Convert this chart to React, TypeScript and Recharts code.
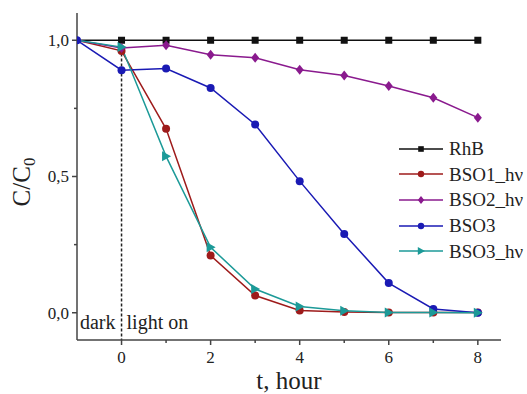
import { LineChart, Line, XAxis, YAxis, ReferenceLine, Legend } from "recharts";

// time, hours (-1 = start of dark stage)
const hours = [-1, 0, 1, 2, 3, 4, 5, 6, 7, 8];

// C/C0 values
const rhb = [1, 1, 1, 1, 1, 1, 1, 1, 1, 1];
const bso1hv = [1, 0.961, 0.675, 0.21, 0.063, 0.008, 0.003, 0.001, 0.001, 0.001];
const bso2hv = [1, 0.972, 0.982, 0.947, 0.936, 0.892, 0.871, 0.832, 0.789, 0.716];
const bso3 = [1, 0.89, 0.896, 0.825, 0.691, 0.483, 0.289, 0.109, 0.014, 0.0];
const bso3hv = [1, 0.975, 0.574, 0.24, 0.087, 0.023, 0.007, 0.001, 0.001, 0.0];

const xTicks = [0, 1, 2, 3, 4, 5, 6, 7, 8];
const yTicks = [0, 0.25, 0.5, 0.75, 1];

const SERIES = [
  { key: "RhB", name: "RhB", values: rhb, color: "#111111", shape: "square" },
  { key: "BSO1", name: "BSO1_hν", values: bso1hv, color: "#9e1b1b", shape: "circle" },
  { key: "BSO2", name: "BSO2_hν", values: bso2hv, color: "#8a1a8e", shape: "diamond" },
  { key: "BSO3", name: "BSO3", values: bso3, color: "#1a1ab4", shape: "circle" },
  { key: "BSO3hv", name: "BSO3_hν", values: bso3hv, color: "#1c9a98", shape: "triangle" },
];

const data = hours.map((t, i) => {
  const row: Record<string, number> = { t };
  SERIES.forEach((s) => (row[s.key] = s.values[i]));
  return row;
});

const FONT = "Liberation Serif, Times New Roman, serif";
const AXIS = "#444";

function marker(shape: string, cx: number, cy: number, color: string, k = 1, key?: string) {
  if (shape === "square")
    return <rect key={key} x={cx - 3.5 * k} y={cy - 3.5 * k} width={7 * k} height={7 * k} fill={color} />;
  if (shape === "diamond")
    return (
      <polygon
        key={key}
        points={`${cx},${cy - 5 * k} ${cx + 4 * k},${cy} ${cx},${cy + 5 * k} ${cx - 4 * k},${cy}`}
        fill={color}
      />
    );
  if (shape === "triangle")
    return (
      <polygon
        key={key}
        points={`${cx - 4 * k},${cy - 5 * k} ${cx + 5 * k},${cy} ${cx - 4 * k},${cy + 5 * k}`}
        fill={color}
      />
    );
  return <circle key={key} cx={cx} cy={cy} r={4 * k} fill={color} />;
}

const YTick = ({ x, y, payload }: any) => {
  const v = payload.value;
  const major = Math.abs(v * 2 - Math.round(v * 2)) < 1e-6;
  return (
    <g>
      <line x1={x} x2={x - (major ? 5 : 3)} y1={y} y2={y} stroke={AXIS} strokeWidth={1.5} />
      {major && (
        <text x={x - 8} y={y} dy="0.35em" textAnchor="end" style={{ fontFamily: FONT, fontSize: 17 }} fill="#222">
          {v.toFixed(1).replace(".", ",")}
        </text>
      )}
    </g>
  );
};

const XTick = ({ x, y, payload }: any) => {
  const v = payload.value;
  const major = v % 2 === 0;
  return (
    <g>
      <line x1={x} x2={x} y1={y} y2={y + (major ? 5 : 3)} stroke={AXIS} strokeWidth={1.5} />
      {major && (
        <text x={x} y={y + 23} textAnchor="middle" style={{ fontFamily: FONT, fontSize: 17 }} fill="#222">
          {v}
        </text>
      )}
    </g>
  );
};

const renderLegend = () => (
  <div style={{ fontFamily: FONT, fontSize: 19, color: "#222" }}>
    {SERIES.map((s) => (
      <div key={s.key} style={{ display: "flex", alignItems: "center", height: 25.6 }}>
        <svg width={46} height={14}>
          <line x1={1} x2={45} y1={7} y2={7} stroke={s.color} strokeWidth={1.5} />
          {marker(s.shape, 23, 7, s.color, 0.8)}
        </svg>
        <span style={{ marginLeft: 5, lineHeight: 1 }}>{s.name}</span>
      </div>
    ))}
  </div>
);

export default function App() {
  return (
    <div style={{ position: "absolute", left: 0, top: 0, fontFamily: FONT }}>
      <LineChart width={527} height={394} data={data} margin={{ top: 13, right: 26, bottom: 0, left: 0 }}>
        <XAxis
          dataKey="t"
          type="number"
          domain={[-1, 8.52]}
          ticks={xTicks}
          interval={0}
          allowDataOverflow
          height={54}
          tickSize={0}
          tickMargin={0}
          tickLine={false}
          tick={<XTick />}
          axisLine={{ stroke: AXIS, strokeWidth: 1.5 }}
          label={{
            content: () => (
              <text x={289} y={389} textAnchor="middle" style={{ fontFamily: FONT, fontSize: 25 }} fill="#222">
                t, hour
              </text>
            ),
          }}
        />
        <YAxis
          type="number"
          domain={[-0.1, 1.1]}
          ticks={yTicks}
          interval={0}
          allowDataOverflow
          width={77}
          tickSize={0}
          tickMargin={0}
          tickLine={false}
          tick={<YTick />}
          axisLine={{ stroke: AXIS, strokeWidth: 1.5 }}
          label={{
            content: () => (
              <text
                x={30}
                y={182}
                transform="rotate(-90 30 182)"
                textAnchor="middle"
                style={{ fontFamily: FONT, fontSize: 25 }}
                fill="#222"
              >
                C/C
                <tspan style={{ fontSize: 17 }} dy={5}>
                  0
                </tspan>
              </text>
            ),
          }}
        />
        <ReferenceLine
          segment={[
            { x: 0, y: 0.97 },
            { x: 0, y: -0.1 },
          ]}
          stroke="#222"
          strokeWidth={1.5}
          strokeDasharray="3 2"
        />
        <ReferenceLine
          x={0}
          stroke="none"
          label={{
            content: (props: any) => {
              const vx = props.viewBox ? props.viewBox.x : 122;
              return (
                <g style={{ fontFamily: FONT, fontSize: 20 }} fill="#222">
                  <text x={vx - 6} y={329} textAnchor="end">
                    dark
                  </text>
                  <text x={vx + 5} y={329} textAnchor="start">
                    light on
                  </text>
                </g>
              );
            },
          }}
        />
        {SERIES.map((s) => (
          <Line
            key={s.key}
            dataKey={s.key}
            name={s.name}
            type="linear"
            stroke={s.color}
            strokeWidth={1.5}
            isAnimationActive={false}
            activeDot={false}
            dot={(p: any) => {
              if (p.index === 0 && s.key !== "BSO3") return <g key={`${s.key}-${p.index}`} />;
              return marker(s.shape, p.cx, p.cy, s.color, 1, `${s.key}-${p.index}`);
            }}
          />
        ))}
        <Legend
          layout="vertical"
          align="center"
          verticalAlign="middle"
          content={renderLegend}
          wrapperStyle={{ position: "absolute", left: 398, top: 136, width: 129 }}
        />
      </LineChart>
    </div>
  );
}
